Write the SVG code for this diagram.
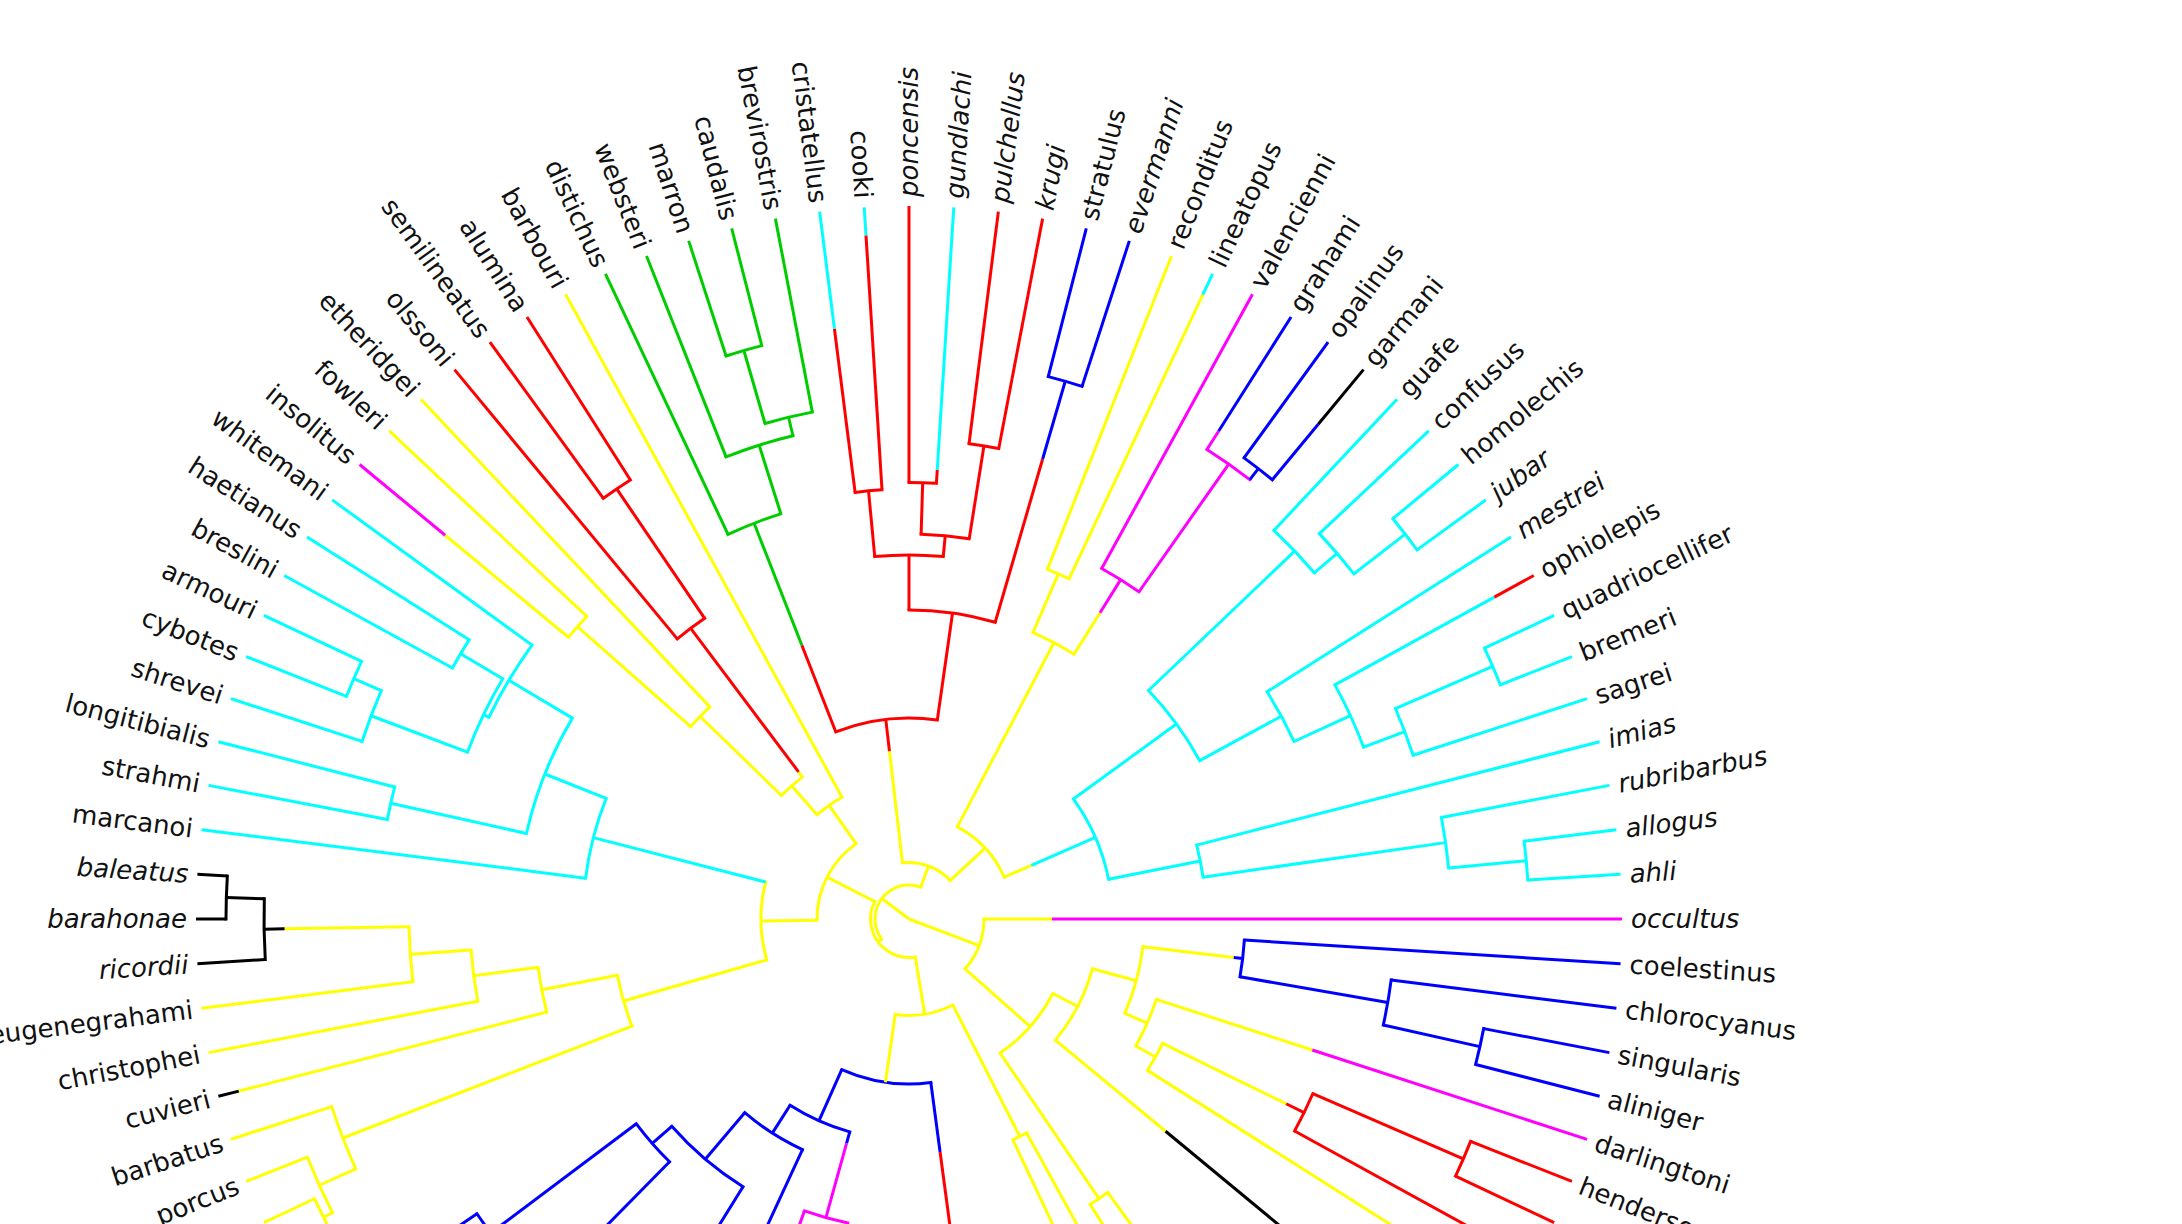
<svg xmlns="http://www.w3.org/2000/svg" width="2182" height="1224" viewBox="0 0 2182 1224">
<style>
line,circle{fill:none;stroke-width:3}
line{stroke-linecap:butt}
circle{stroke-linecap:square}
.y{stroke:#ffff00}.c{stroke:#00ffff}.r{stroke:#ff0000}.g{stroke:#00cd00}.b{stroke:#0000ff}.m{stroke:#ff00ff}.k{stroke:#000000}
text{font-family:"DejaVu Sans","Liberation Sans",sans-serif;font-size:26px;fill:#111}
.i text{font-style:italic}
.f text{text-anchor:end}
</style>
<rect width="2182" height="1224" fill="#ffffff"/>
<g id="connectors" transform="translate(909,919)">
<g id="arcs">
<circle class="y" r="34" stroke-dasharray="86.86 9999" transform="rotate(143.8)"/>
<circle class="y" r="38.5" stroke-dasharray="84.97 9999" transform="rotate(80.6)"/>
<circle class="y" r="56.5" stroke-dasharray="52.89 9999" transform="rotate(263.36)"/>
<circle class="y" r="104" stroke-dasharray="70.14 9999" transform="rotate(297.675)"/>
<circle class="y" r="92" stroke-dasharray="89.44 9999" transform="rotate(179.2)"/>
<circle class="y" r="75" stroke-dasharray="54.45 9999" transform="rotate(0)"/>
<circle class="y" r="96.5" stroke-dasharray="59.28 9999" transform="rotate(63)"/>
<circle class="r" r="201" stroke-dasharray="103.40 9999" transform="rotate(248.625)"/>
<circle class="r" r="309" stroke-dasharray="87.37 9999" transform="rotate(270)"/>
<circle class="r" r="364" stroke-dasharray="68.61 9999" transform="rotate(264.6)"/>
<circle class="r" r="385" stroke-dasharray="48.38 9999" transform="rotate(271.8)"/>
<circle class="r" r="430" stroke-dasharray="27.02 9999" transform="rotate(262.8)"/>
<circle class="r" r="436.5" stroke-dasharray="27.43 9999" transform="rotate(270)"/>
<circle class="r" r="479" stroke-dasharray="30.10 9999" transform="rotate(277.2)"/>
<circle class="b" r="560" stroke-dasharray="35.19 9999" transform="rotate(284.4)"/>
<circle class="g" r="425" stroke-dasharray="56.74 9999" transform="rotate(244.8)"/>
<circle class="g" r="497" stroke-dasharray="70.26 9999" transform="rotate(248.4)"/>
<circle class="g" r="516" stroke-dasharray="48.63 9999" transform="rotate(253.8)"/>
<circle class="g" r="592" stroke-dasharray="37.20 9999" transform="rotate(252)"/>
<circle class="y" r="312" stroke-dasharray="46.56 9999" transform="rotate(293.4)"/>
<circle class="y" r="376" stroke-dasharray="23.62 9999" transform="rotate(291.6)"/>
<circle class="m" r="400" stroke-dasharray="43.98 9999" transform="rotate(298.8)"/>
<circle class="m" r="556" stroke-dasharray="52.40 9999" transform="rotate(302.4)"/>
<circle class="b" r="570" stroke-dasharray="35.81 9999" transform="rotate(306)"/>
<circle class="c" r="203.5" stroke-dasharray="88.29 9999" transform="rotate(323.89)"/>
<circle class="c" r="331" stroke-dasharray="87.09 9999" transform="rotate(316.35)"/>
<circle class="c" r="533" stroke-dasharray="58.61 9999" transform="rotate(313.2)"/>
<circle class="c" r="563" stroke-dasharray="53.06 9999" transform="rotate(316.8)"/>
<circle class="c" r="628" stroke-dasharray="39.46 9999" transform="rotate(320.4)"/>
<circle class="c" r="424" stroke-dasharray="56.61 9999" transform="rotate(327.6)"/>
<circle class="c" r="486" stroke-dasharray="68.71 9999" transform="rotate(331.2)"/>
<circle class="c" r="530" stroke-dasharray="49.95 9999" transform="rotate(336.6)"/>
<circle class="c" r="636" stroke-dasharray="39.96 9999" transform="rotate(334.8)"/>
<circle class="c" r="297" stroke-dasharray="32.66 9999" transform="rotate(345.6)"/>
<circle class="c" r="542" stroke-dasharray="51.08 9999" transform="rotate(349.2)"/>
<circle class="c" r="620" stroke-dasharray="38.96 9999" transform="rotate(352.8)"/>
<circle class="y" r="148" stroke-dasharray="78.76 9999" transform="rotate(163.97)"/>
<circle class="c" r="326" stroke-dasharray="82.56 9999" transform="rotate(187.2)"/>
<circle class="c" r="392" stroke-dasharray="124.69 9999" transform="rotate(192.6)"/>
<circle class="c" r="531" stroke-dasharray="33.36 9999" transform="rotate(190.8)"/>
<circle class="c" r="466" stroke-dasharray="84.18 9999" transform="rotate(205.65)"/>
<circle class="c" r="472" stroke-dasharray="81.55 9999" transform="rotate(200.7)"/>
<circle class="c" r="521" stroke-dasharray="32.74 9999" transform="rotate(208.8)"/>
<circle class="c" r="575" stroke-dasharray="54.19 9999" transform="rotate(198)"/>
<circle class="c" r="605" stroke-dasharray="38.01 9999" transform="rotate(201.6)"/>
<circle class="y" r="297" stroke-dasharray="53.08 9999" transform="rotate(158.85)"/>
<circle class="y" r="607" stroke-dasharray="66.74 9999" transform="rotate(155.7)"/>
<circle class="y" r="647" stroke-dasharray="60.98 9999" transform="rotate(153)"/>
<circle class="y" r="657" stroke-dasharray="41.28 9999" transform="rotate(151.2)"/>
<circle class="y" r="374" stroke-dasharray="45.53 9999" transform="rotate(165.6)"/>
<circle class="y" r="439" stroke-dasharray="51.72 9999" transform="rotate(169.2)"/>
<circle class="y" r="500" stroke-dasharray="54.98 9999" transform="rotate(172.8)"/>
<circle class="k" r="645" stroke-dasharray="60.79 9999" transform="rotate(176.4)"/>
<circle class="k" r="683" stroke-dasharray="42.91 9999" transform="rotate(180)"/>
<circle class="y" r="139" stroke-dasharray="30.57 9999" transform="rotate(228.6)"/>
<circle class="y" r="177.5" stroke-dasharray="27.88 9999" transform="rotate(224.1)"/>
<circle class="y" r="291" stroke-dasharray="27.43 9999" transform="rotate(221.4)"/>
<circle class="y" r="442" stroke-dasharray="27.77 9999" transform="rotate(219.6)"/>
<circle class="r" r="363.5" stroke-dasharray="34.26 9999" transform="rotate(230.4)"/>
<circle class="r" r="520" stroke-dasharray="32.67 9999" transform="rotate(234)"/>
<circle class="y" r="162" stroke-dasharray="80.31 9999" transform="rotate(27.395)"/>
<circle class="y" r="190" stroke-dasharray="80.95 9999" transform="rotate(15.19)"/>
<circle class="y" r="338" stroke-dasharray="21.24 9999" transform="rotate(54)"/>
<circle class="y" r="235.5" stroke-dasharray="69.36 9999" transform="rotate(6.75)"/>
<circle class="y" r="260" stroke-dasharray="51.05 9999" transform="rotate(18)"/>
<circle class="y" r="282.5" stroke-dasharray="31.06 9999" transform="rotate(26.1)"/>
<circle class="b" r="336" stroke-dasharray="36.94 9999" transform="rotate(3.6)"/>
<circle class="b" r="486" stroke-dasharray="45.80 9999" transform="rotate(7.2)"/>
<circle class="b" r="585" stroke-dasharray="36.76 9999" transform="rotate(10.8)"/>
<circle class="r" r="440" stroke-dasharray="41.47 9999" transform="rotate(23.4)"/>
<circle class="r" r="604" stroke-dasharray="37.95 9999" transform="rotate(21.6)"/>
<circle class="y" r="244" stroke-dasharray="15.33 9999" transform="rotate(61.2)"/>
<circle class="b" r="165" stroke-dasharray="91.14 9999" transform="rotate(82.4)"/>
<circle class="b" r="221" stroke-dasharray="65.57 9999" transform="rotate(105.55)"/>
<circle class="m" r="310" stroke-dasharray="44.91 9999" transform="rotate(101.4)"/>
<circle class="b" r="254" stroke-dasharray="68.71 9999" transform="rotate(114.8)"/>
<circle class="b" r="315" stroke-dasharray="93.74 9999" transform="rotate(121.8)"/>
<circle class="b" r="341" stroke-dasharray="50.59 9999" transform="rotate(134.6)"/>
<circle class="b" r="523" stroke-dasharray="47.46 9999" transform="rotate(140.5)"/>
</g>
<g id="branches">
<line class="y" x1="0" x2="34" transform="rotate(217)"/>
<line class="y" x1="0" x2="75" transform="rotate(20.8)"/>
<line class="y" x1="34" x2="56.5" transform="rotate(290.18)"/>
<line class="y" x1="34" x2="38.5" transform="rotate(143.8)"/>
<line class="y" x1="38.5" x2="92" transform="rotate(207.05)"/>
<line class="y" x1="38.5" x2="96.5" transform="rotate(80.6)"/>
<line class="y" x1="56.5" x2="169" transform="rotate(263.36)"/>
<line class="r" x1="169" x2="201" transform="rotate(263.36)"/>
<line class="y" x1="56.5" x2="104" transform="rotate(317)"/>
<line class="y" x1="104" x2="312" transform="rotate(297.675)"/>
<line class="y" x1="104" x2="133.6" transform="rotate(336.32)"/>
<line class="c" x1="133.6" x2="203.5" transform="rotate(336.32)"/>
<line class="r" x1="201" x2="294" transform="rotate(248.625)"/>
<line class="g" x1="294" x2="425" transform="rotate(248.625)"/>
<line class="r" x1="201" x2="309" transform="rotate(278.1)"/>
<line class="r" x1="309" x2="364" transform="rotate(270)"/>
<line class="r" x1="309" x2="479" transform="rotate(286.2)"/>
<line class="b" x1="479" x2="560" transform="rotate(286.2)"/>
<line class="r" x1="364" x2="430" transform="rotate(264.6)"/>
<line class="r" x1="364" x2="385" transform="rotate(275.4)"/>
<line class="r" x1="385" x2="436.5" transform="rotate(271.8)"/>
<line class="r" x1="385" x2="479" transform="rotate(279)"/>
<line class="r" x1="430" x2="595" transform="rotate(262.8)"/>
<line class="c" x1="595" x2="713" transform="rotate(262.8)"/>
<line class="r" x1="430" x2="685" transform="rotate(266.4)"/>
<line class="c" x1="685" x2="713" transform="rotate(266.4)"/>
<line class="r" x1="436.5" x2="713" transform="rotate(270)"/>
<line class="r" x1="436.5" x2="450" transform="rotate(273.6)"/>
<line class="c" x1="450" x2="713" transform="rotate(273.6)"/>
<line class="r" x1="479" x2="713" transform="rotate(277.2)"/>
<line class="r" x1="479" x2="713" transform="rotate(280.8)"/>
<line class="b" x1="560" x2="713" transform="rotate(284.4)"/>
<line class="b" x1="560" x2="713" transform="rotate(288)"/>
<line class="g" x1="425" x2="713" transform="rotate(244.8)"/>
<line class="g" x1="425" x2="497" transform="rotate(252.45)"/>
<line class="g" x1="497" x2="713" transform="rotate(248.4)"/>
<line class="g" x1="497" x2="516" transform="rotate(256.5)"/>
<line class="g" x1="516" x2="713" transform="rotate(259.2)"/>
<line class="g" x1="516" x2="592" transform="rotate(253.8)"/>
<line class="g" x1="592" x2="713" transform="rotate(252)"/>
<line class="g" x1="592" x2="713" transform="rotate(255.6)"/>
<line class="y" x1="312" x2="376" transform="rotate(293.4)"/>
<line class="y" x1="376" x2="713" transform="rotate(291.6)"/>
<line class="y" x1="376" x2="690" transform="rotate(295.2)"/>
<line class="c" x1="690" x2="713" transform="rotate(295.2)"/>
<line class="y" x1="312" x2="361" transform="rotate(301.95)"/>
<line class="m" x1="361" x2="400" transform="rotate(301.95)"/>
<line class="m" x1="400" x2="713" transform="rotate(298.8)"/>
<line class="m" x1="400" x2="556" transform="rotate(305.1)"/>
<line class="m" x1="556" x2="578" transform="rotate(302.4)"/>
<line class="b" x1="578" x2="713" transform="rotate(302.4)"/>
<line class="b" x1="556" x2="570" transform="rotate(307.8)"/>
<line class="b" x1="570" x2="713" transform="rotate(306)"/>
<line class="b" x1="570" x2="642" transform="rotate(309.6)"/>
<line class="k" x1="642" x2="713" transform="rotate(309.6)"/>
<line class="c" x1="203.5" x2="331" transform="rotate(323.89)"/>
<line class="c" x1="331" x2="533" transform="rotate(316.35)"/>
<line class="c" x1="533" x2="713" transform="rotate(313.2)"/>
<line class="c" x1="533" x2="563" transform="rotate(319.5)"/>
<line class="c" x1="563" x2="713" transform="rotate(316.8)"/>
<line class="c" x1="563" x2="628" transform="rotate(322.2)"/>
<line class="c" x1="628" x2="713" transform="rotate(320.4)"/>
<line class="c" x1="628" x2="713" transform="rotate(324)"/>
<line class="c" x1="331" x2="424" transform="rotate(331.425)"/>
<line class="c" x1="424" x2="713" transform="rotate(327.6)"/>
<line class="c" x1="424" x2="486" transform="rotate(335.25)"/>
<line class="c" x1="486" x2="668" transform="rotate(331.2)"/>
<line class="r" x1="668" x2="713" transform="rotate(331.2)"/>
<line class="c" x1="486" x2="530" transform="rotate(339.3)"/>
<line class="c" x1="530" x2="713" transform="rotate(342)"/>
<line class="c" x1="530" x2="636" transform="rotate(336.6)"/>
<line class="c" x1="636" x2="713" transform="rotate(334.8)"/>
<line class="c" x1="636" x2="713" transform="rotate(338.4)"/>
<line class="c" x1="203.5" x2="297" transform="rotate(348.75)"/>
<line class="c" x1="297" x2="713" transform="rotate(345.6)"/>
<line class="c" x1="297" x2="542" transform="rotate(351.9)"/>
<line class="c" x1="542" x2="713" transform="rotate(349.2)"/>
<line class="c" x1="542" x2="620" transform="rotate(354.6)"/>
<line class="c" x1="620" x2="713" transform="rotate(352.8)"/>
<line class="c" x1="620" x2="713" transform="rotate(356.4)"/>
<line class="y" x1="92" x2="148" transform="rotate(179.2)"/>
<line class="c" x1="148" x2="326" transform="rotate(194.46)"/>
<line class="c" x1="326" x2="713" transform="rotate(187.2)"/>
<line class="c" x1="326" x2="392" transform="rotate(201.71)"/>
<line class="c" x1="392" x2="531" transform="rotate(192.6)"/>
<line class="c" x1="531" x2="713" transform="rotate(190.8)"/>
<line class="c" x1="531" x2="713" transform="rotate(194.4)"/>
<line class="c" x1="392" x2="466" transform="rotate(210.825)"/>
<line class="c" x1="466" x2="713" transform="rotate(216)"/>
<line class="c" x1="466" x2="472" transform="rotate(205.65)"/>
<line class="c" x1="472" x2="521" transform="rotate(210.6)"/>
<line class="c" x1="521" x2="713" transform="rotate(208.8)"/>
<line class="c" x1="521" x2="713" transform="rotate(212.4)"/>
<line class="c" x1="472" x2="575" transform="rotate(200.7)"/>
<line class="c" x1="575" x2="713" transform="rotate(198)"/>
<line class="c" x1="575" x2="605" transform="rotate(203.4)"/>
<line class="c" x1="605" x2="713" transform="rotate(201.6)"/>
<line class="c" x1="605" x2="713" transform="rotate(205.2)"/>
<line class="y" x1="148" x2="297" transform="rotate(163.97)"/>
<line class="y" x1="297" x2="607" transform="rotate(158.85)"/>
<line class="y" x1="607" x2="713" transform="rotate(162)"/>
<line class="y" x1="607" x2="647" transform="rotate(155.7)"/>
<line class="y" x1="647" x2="713" transform="rotate(158.4)"/>
<line class="y" x1="647" x2="657" transform="rotate(153)"/>
<line class="y" x1="657" x2="713" transform="rotate(154.8)"/>
<line class="y" x1="657" x2="713" transform="rotate(151.2)"/>
<line class="y" x1="297" x2="374" transform="rotate(169.09)"/>
<line class="y" x1="374" x2="692" transform="rotate(165.6)"/>
<line class="k" x1="692" x2="713" transform="rotate(165.6)"/>
<line class="y" x1="374" x2="439" transform="rotate(172.575)"/>
<line class="y" x1="439" x2="713" transform="rotate(169.2)"/>
<line class="y" x1="439" x2="500" transform="rotate(175.95)"/>
<line class="y" x1="500" x2="713" transform="rotate(172.8)"/>
<line class="y" x1="500" x2="624.5" transform="rotate(179.1)"/>
<line class="k" x1="624.5" x2="645" transform="rotate(179.1)"/>
<line class="k" x1="645" x2="713" transform="rotate(176.4)"/>
<line class="k" x1="645" x2="683" transform="rotate(181.8)"/>
<line class="k" x1="683" x2="713" transform="rotate(180)"/>
<line class="k" x1="683" x2="713" transform="rotate(183.6)"/>
<line class="y" x1="92" x2="139" transform="rotate(234.9)"/>
<line class="y" x1="139" x2="713" transform="rotate(241.2)"/>
<line class="y" x1="139" x2="177.5" transform="rotate(228.6)"/>
<line class="y" x1="177.5" x2="184" transform="rotate(233.1)"/>
<line class="r" x1="184" x2="363.5" transform="rotate(233.1)"/>
<line class="r" x1="363.5" x2="713" transform="rotate(230.4)"/>
<line class="r" x1="363.5" x2="520" transform="rotate(235.8)"/>
<line class="r" x1="520" x2="713" transform="rotate(234)"/>
<line class="r" x1="520" x2="713" transform="rotate(237.6)"/>
<line class="y" x1="177.5" x2="291" transform="rotate(224.1)"/>
<line class="y" x1="291" x2="713" transform="rotate(226.8)"/>
<line class="y" x1="291" x2="442" transform="rotate(221.4)"/>
<line class="y" x1="442" x2="713" transform="rotate(223.2)"/>
<line class="y" x1="442" x2="602" transform="rotate(219.6)"/>
<line class="m" x1="602" x2="713" transform="rotate(219.6)"/>
<line class="y" x1="75" x2="143" transform="rotate(0)"/>
<line class="m" x1="143" x2="713" transform="rotate(0)"/>
<line class="y" x1="75" x2="162" transform="rotate(41.6)"/>
<line class="y" x1="162" x2="190" transform="rotate(27.395)"/>
<line class="y" x1="162" x2="338" transform="rotate(55.8)"/>
<line class="y" x1="338" x2="713" transform="rotate(54)"/>
<line class="y" x1="338" x2="713" transform="rotate(57.6)"/>
<line class="y" x1="190" x2="235.5" transform="rotate(15.19)"/>
<line class="y" x1="190" x2="333" transform="rotate(39.6)"/>
<line class="k" x1="333" x2="713" transform="rotate(39.6)"/>
<line class="y" x1="235.5" x2="327" transform="rotate(6.75)"/>
<line class="b" x1="327" x2="336" transform="rotate(6.75)"/>
<line class="b" x1="336" x2="713" transform="rotate(3.6)"/>
<line class="b" x1="336" x2="486" transform="rotate(9.9)"/>
<line class="b" x1="486" x2="713" transform="rotate(7.2)"/>
<line class="b" x1="486" x2="585" transform="rotate(12.6)"/>
<line class="b" x1="585" x2="713" transform="rotate(10.8)"/>
<line class="b" x1="585" x2="713" transform="rotate(14.4)"/>
<line class="y" x1="235.5" x2="260" transform="rotate(23.625)"/>
<line class="y" x1="260" x2="424" transform="rotate(18)"/>
<line class="m" x1="424" x2="713" transform="rotate(18)"/>
<line class="y" x1="260" x2="282.5" transform="rotate(29.25)"/>
<line class="y" x1="282.5" x2="420" transform="rotate(26.1)"/>
<line class="r" x1="420" x2="440" transform="rotate(26.1)"/>
<line class="r" x1="440" x2="604" transform="rotate(23.4)"/>
<line class="r" x1="604" x2="713" transform="rotate(21.6)"/>
<line class="r" x1="604" x2="713" transform="rotate(25.2)"/>
<line class="r" x1="440" x2="713" transform="rotate(28.8)"/>
<line class="y" x1="282.5" x2="713" transform="rotate(32.4)"/>
<line class="y" x1="96.5" x2="244" transform="rotate(63)"/>
<line class="y" x1="244" x2="713" transform="rotate(61.2)"/>
<line class="y" x1="244" x2="713" transform="rotate(64.8)"/>
<line class="y" x1="96.5" x2="165" transform="rotate(98.2)"/>
<line class="b" x1="165" x2="235" transform="rotate(82.4)"/>
<line class="r" x1="235" x2="713" transform="rotate(82.4)"/>
<line class="b" x1="165" x2="221" transform="rotate(114.05)"/>
<line class="b" x1="221" x2="233" transform="rotate(105.55)"/>
<line class="m" x1="233" x2="310" transform="rotate(105.55)"/>
<line class="m" x1="310" x2="713" transform="rotate(101.4)"/>
<line class="m" x1="310" x2="713" transform="rotate(109.7)"/>
<line class="b" x1="221" x2="254" transform="rotate(122.55)"/>
<line class="b" x1="254" x2="713" transform="rotate(114.8)"/>
<line class="b" x1="254" x2="315" transform="rotate(130.3)"/>
<line class="b" x1="315" x2="713" transform="rotate(121.8)"/>
<line class="b" x1="315" x2="341" transform="rotate(138.85)"/>
<line class="b" x1="341" x2="713" transform="rotate(134.6)"/>
<line class="b" x1="341" x2="523" transform="rotate(143.1)"/>
<line class="b" x1="523" x2="713" transform="rotate(140.5)"/>
<line class="b" x1="523" x2="713" transform="rotate(145.7)"/>
</g>
</g>
<g id="labels" transform="translate(909,919)">
<g id="tip-porcus" class="f" transform="rotate(158.4) translate(722 0) rotate(180)"><text dy=".35em">porcus</text></g>
<g id="tip-barbatus" class="f" transform="rotate(162) translate(722 0) rotate(180)"><text dy=".35em">barbatus</text></g>
<g id="tip-cuvieri" class="f" transform="rotate(165.6) translate(722 0) rotate(180)"><text dy=".35em">cuvieri</text></g>
<g id="tip-christophei" class="f" transform="rotate(169.2) translate(722 0) rotate(180)"><text dy=".35em">christophei</text></g>
<g id="tip-eugenegrahami" class="f" transform="rotate(172.8) translate(722 0) rotate(180)"><text dy=".35em">eugenegrahami</text></g>
<g id="tip-ricordii" class="f i" transform="rotate(176.4) translate(722 0) rotate(180)"><text dy=".35em">ricordii</text></g>
<g id="tip-barahonae" class="f i" transform="rotate(180) translate(722 0) rotate(180)"><text dy=".35em">barahonae</text></g>
<g id="tip-baleatus" class="f i" transform="rotate(183.6) translate(722 0) rotate(180)"><text dy=".35em">baleatus</text></g>
<g id="tip-marcanoi" class="f" transform="rotate(187.2) translate(722 0) rotate(180)"><text dy=".35em">marcanoi</text></g>
<g id="tip-strahmi" class="f" transform="rotate(190.8) translate(722 0) rotate(180)"><text dy=".35em">strahmi</text></g>
<g id="tip-longitibialis" class="f" transform="rotate(194.4) translate(722 0) rotate(180)"><text dy=".35em">longitibialis</text></g>
<g id="tip-shrevei" class="f" transform="rotate(198) translate(722 0) rotate(180)"><text dy=".35em">shrevei</text></g>
<g id="tip-cybotes" class="f" transform="rotate(201.6) translate(722 0) rotate(180)"><text dy=".35em">cybotes</text></g>
<g id="tip-armouri" class="f" transform="rotate(205.2) translate(722 0) rotate(180)"><text dy=".35em">armouri</text></g>
<g id="tip-breslini" class="f" transform="rotate(208.8) translate(722 0) rotate(180)"><text dy=".35em">breslini</text></g>
<g id="tip-haetianus" class="f" transform="rotate(212.4) translate(722 0) rotate(180)"><text dy=".35em">haetianus</text></g>
<g id="tip-whitemani" class="f" transform="rotate(216) translate(722 0) rotate(180)"><text dy=".35em">whitemani</text></g>
<g id="tip-insolitus" class="f" transform="rotate(219.6) translate(722 0) rotate(180)"><text dy=".35em">insolitus</text></g>
<g id="tip-fowleri" class="f" transform="rotate(223.2) translate(722 0) rotate(180)"><text dy=".35em">fowleri</text></g>
<g id="tip-etheridgei" class="f" transform="rotate(226.8) translate(722 0) rotate(180)"><text dy=".35em">etheridgei</text></g>
<g id="tip-olssoni" class="f" transform="rotate(230.4) translate(722 0) rotate(180)"><text dy=".35em">olssoni</text></g>
<g id="tip-semilineatus" class="f" transform="rotate(234) translate(722 0) rotate(180)"><text dy=".35em">semilineatus</text></g>
<g id="tip-alumina" class="f" transform="rotate(237.6) translate(722 0) rotate(180)"><text dy=".35em">alumina</text></g>
<g id="tip-barbouri" class="f" transform="rotate(241.2) translate(722 0) rotate(180)"><text dy=".35em">barbouri</text></g>
<g id="tip-distichus" class="f" transform="rotate(244.8) translate(722 0) rotate(180)"><text dy=".35em">distichus</text></g>
<g id="tip-websteri" class="f" transform="rotate(248.4) translate(722 0) rotate(180)"><text dy=".35em">websteri</text></g>
<g id="tip-marron" class="f" transform="rotate(252) translate(722 0) rotate(180)"><text dy=".35em">marron</text></g>
<g id="tip-caudalis" class="f" transform="rotate(255.6) translate(722 0) rotate(180)"><text dy=".35em">caudalis</text></g>
<g id="tip-brevirostris" class="f" transform="rotate(259.2) translate(722 0) rotate(180)"><text dy=".35em">brevirostris</text></g>
<g id="tip-cristatellus" class="f" transform="rotate(262.8) translate(722 0) rotate(180)"><text dy=".35em">cristatellus</text></g>
<g id="tip-cooki" class="f" transform="rotate(266.4) translate(722 0) rotate(180)"><text dy=".35em">cooki</text></g>
<g id="tip-poncensis" class="i" transform="rotate(270) translate(722 0)"><text dy=".35em">poncensis</text></g>
<g id="tip-gundlachi" class="i" transform="rotate(273.6) translate(722 0)"><text dy=".35em">gundlachi</text></g>
<g id="tip-pulchellus" class="i" transform="rotate(277.2) translate(722 0)"><text dy=".35em">pulchellus</text></g>
<g id="tip-krugi" class="i" transform="rotate(280.8) translate(722 0)"><text dy=".35em">krugi</text></g>
<g id="tip-stratulus" transform="rotate(284.4) translate(722 0)"><text dy=".35em">stratulus</text></g>
<g id="tip-evermanni" class="i" transform="rotate(288) translate(722 0)"><text dy=".35em">evermanni</text></g>
<g id="tip-reconditus" transform="rotate(291.6) translate(722 0)"><text dy=".35em">reconditus</text></g>
<g id="tip-lineatopus" transform="rotate(295.2) translate(722 0)"><text dy=".35em">lineatopus</text></g>
<g id="tip-valencienni" transform="rotate(298.8) translate(722 0)"><text dy=".35em">valencienni</text></g>
<g id="tip-grahami" transform="rotate(302.4) translate(722 0)"><text dy=".35em">grahami</text></g>
<g id="tip-opalinus" transform="rotate(306) translate(722 0)"><text dy=".35em">opalinus</text></g>
<g id="tip-garmani" transform="rotate(309.6) translate(722 0)"><text dy=".35em">garmani</text></g>
<g id="tip-guafe" transform="rotate(313.2) translate(722 0)"><text dy=".35em">guafe</text></g>
<g id="tip-confusus" transform="rotate(316.8) translate(722 0)"><text dy=".35em">confusus</text></g>
<g id="tip-homolechis" transform="rotate(320.4) translate(722 0)"><text dy=".35em">homolechis</text></g>
<g id="tip-jubar" class="i" transform="rotate(324) translate(722 0)"><text dy=".35em">jubar</text></g>
<g id="tip-mestrei" class="i" transform="rotate(327.6) translate(722 0)"><text dy=".35em">mestrei</text></g>
<g id="tip-ophiolepis" transform="rotate(331.2) translate(722 0)"><text dy=".35em">ophiolepis</text></g>
<g id="tip-quadriocellifer" transform="rotate(334.8) translate(722 0)"><text dy=".35em">quadriocellifer</text></g>
<g id="tip-bremeri" transform="rotate(338.4) translate(722 0)"><text dy=".35em">bremeri</text></g>
<g id="tip-sagrei" transform="rotate(342) translate(722 0)"><text dy=".35em">sagrei</text></g>
<g id="tip-imias" class="i" transform="rotate(345.6) translate(722 0)"><text dy=".35em">imias</text></g>
<g id="tip-rubribarbus" class="i" transform="rotate(349.2) translate(722 0)"><text dy=".35em">rubribarbus</text></g>
<g id="tip-allogus" class="i" transform="rotate(352.8) translate(722 0)"><text dy=".35em">allogus</text></g>
<g id="tip-ahli" class="i" transform="rotate(356.4) translate(722 0)"><text dy=".35em">ahli</text></g>
<g id="tip-occultus" class="i" transform="rotate(0) translate(722 0)"><text dy=".35em">occultus</text></g>
<g id="tip-coelestinus" transform="rotate(3.6) translate(722 0)"><text dy=".35em">coelestinus</text></g>
<g id="tip-chlorocyanus" transform="rotate(7.2) translate(722 0)"><text dy=".35em">chlorocyanus</text></g>
<g id="tip-singularis" transform="rotate(10.8) translate(722 0)"><text dy=".35em">singularis</text></g>
<g id="tip-aliniger" transform="rotate(14.4) translate(722 0)"><text dy=".35em">aliniger</text></g>
<g id="tip-darlingtoni" transform="rotate(18) translate(722 0)"><text dy=".35em">darlingtoni</text></g>
<g id="tip-hendersoni" transform="rotate(21.6) translate(722 0)"><text dy=".35em">hendersoni</text></g>
</g>
</svg>
